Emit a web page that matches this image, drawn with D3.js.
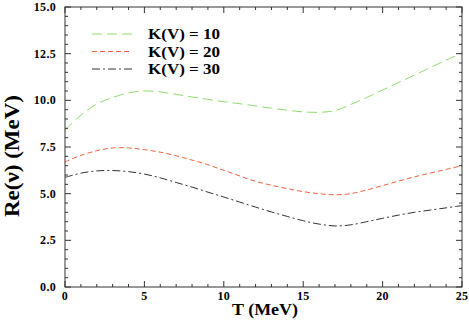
<!DOCTYPE html>
<html><head><meta charset="utf-8">
<script src="https://cdn.jsdelivr.net/npm/d3@7"></script>
<style>body{margin:0;background:#fff}svg{display:block}text{font-family:"Liberation Serif","Times New Roman",serif;font-weight:bold;fill:#000}</style>
</head><body><svg id="c" width="469" height="327"></svg>
<script>
const T = [0,1,2,3,4,5,6,7,8,9,10,11,12,13,14,15,16,17,18,19,20,21,22,23,24,25];
const k10 = [8.4,9.2,9.8,10.15,10.4,10.5,10.45,10.32,10.18,10.05,9.93,9.82,9.7,9.58,9.47,9.38,9.36,9.45,9.78,10.15,10.55,10.95,11.35,11.75,12.15,12.52];
const k20 = [6.7,7.05,7.3,7.45,7.45,7.36,7.22,7.03,6.8,6.55,6.25,5.95,5.66,5.45,5.27,5.11,5.0,4.94,5.0,5.2,5.43,5.67,5.9,6.1,6.3,6.5];
const k30 = [5.87,6.1,6.22,6.24,6.18,6.05,5.85,5.6,5.35,5.08,4.82,4.55,4.28,4.02,3.78,3.55,3.37,3.27,3.33,3.5,3.68,3.85,4.0,4.12,4.24,4.36];
const seriesNames = ["K(V) = 10","K(V) = 20","K(V) = 30"];
const xTicks = [0,5,10,15,20,25];
const yTicks = [0,2.5,5,7.5,10,12.5,15];

const svg = d3.select("#c");
const L=65,R=462,Tp=7,B=287;
const x = d3.scaleLinear().domain([0,25]).range([L,R]);
const y = d3.scaleLinear().domain([0,15]).range([B,Tp]);

const styles = [
  {c:"#8fdc6c", d:"10,5"},
  {c:"#f2603e", d:"5,3"},
  {c:"#333333", d:"8,3,2,3"}
];
const data = [k10,k20,k30];
const line = d3.line().x((d,i)=>x(T[i])).y(d=>y(d)).curve(d3.curveCatmullRom.alpha(0.5));
data.forEach((s,i)=>{
  svg.append("path").attr("d",line(s)).attr("fill","none")
    .attr("stroke",styles[i].c).attr("stroke-width",1).attr("stroke-dasharray",styles[i].d);
});

// frame
svg.append("rect").attr("x",L).attr("y",Tp).attr("width",R-L).attr("height",B-Tp)
  .attr("fill","none").attr("stroke","#333").attr("stroke-width",1);

// ticks
const g = svg.append("g").attr("stroke","#333").attr("stroke-width",1);
d3.range(0,25.01,1).forEach(v=>{
  const major = Math.abs(v%5)<1e-6; const len = major?6:3;
  g.append("line").attr("x1",x(v)).attr("x2",x(v)).attr("y1",B).attr("y2",B-len);
  g.append("line").attr("x1",x(v)).attr("x2",x(v)).attr("y1",Tp).attr("y2",Tp+len);
});
d3.range(0,15.01,0.5).forEach(v=>{
  const major = Math.abs((v/2.5)-Math.round(v/2.5))<1e-6; const len = major?6:3;
  g.append("line").attr("y1",y(v)).attr("y2",y(v)).attr("x1",L).attr("x2",L+len);
  g.append("line").attr("y1",y(v)).attr("y2",y(v)).attr("x1",R).attr("x2",R-len);
});

// tick labels
xTicks.forEach(v=>svg.append("text").attr("x",x(v)).attr("y",B+13).attr("text-anchor","middle")
  .attr("font-size",12).attr("letter-spacing",0.3).text(d3.format("d")(v)));
yTicks.forEach(v=>svg.append("text").attr("x",L-9).attr("y",y(v)+4).attr("text-anchor","end")
  .attr("font-size",12).attr("letter-spacing",0.3).text(d3.format(".1f")(v)));

// axis titles
svg.append("text").attr("x",265).attr("y",315).attr("text-anchor","middle").attr("font-size",16)
  .attr("textLength",66).attr("lengthAdjust","spacingAndGlyphs").text("T (MeV)");
svg.append("text").attr("transform","translate(19,156) rotate(-90)").attr("text-anchor","middle")
  .attr("font-size",21).attr("textLength",122).attr("lengthAdjust","spacingAndGlyphs").text("Re(ν) (MeV)");

// legend
const ly=[34,51.5,69];
seriesNames.forEach((n,i)=>{
  svg.append("line").attr("x1",92).attr("x2",132).attr("y1",ly[i]).attr("y2",ly[i])
    .attr("stroke",styles[i].c).attr("stroke-width",1).attr("stroke-dasharray",styles[i].d);
  svg.append("text").attr("x",148).attr("y",ly[i]+5).attr("font-size",14)
    .attr("textLength",72).attr("lengthAdjust","spacingAndGlyphs").text(n);
});
</script></body></html>
